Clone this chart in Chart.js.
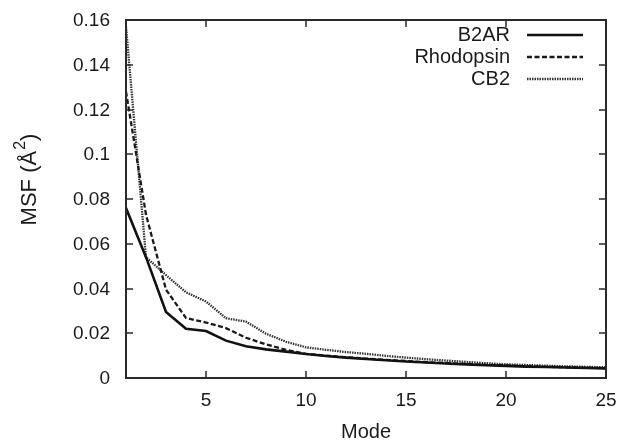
<!DOCTYPE html>
<html>
<head>
<meta charset="utf-8">
<script src="https://cdn.jsdelivr.net/npm/chart.js@4/dist/chart.umd.min.js"></script>
<style>
html,body{margin:0;padding:0;background:#fff;}
#wrap{width:624px;height:441px;position:relative;}
</style>
</head>
<body>
<div id="wrap"><canvas id="c" width="624" height="441"></canvas></div>
<script>
const modes = [1,2,3,4,5,6,7,8,9,10,11,12,13,14,15,16,17,18,19,20,21,22,23,24,25];
const b2ar = [0.076,0.054,0.0295,0.022,0.021,0.0167,0.0142,0.0128,0.0118,0.0107,0.0098,0.0091,0.0085,0.0079,0.0074,0.0069,0.0065,0.0061,0.0057,0.0054,0.0051,0.0049,0.0047,0.0045,0.0043];
const rhodopsin = [0.128,0.073,0.0395,0.0268,0.0248,0.0223,0.018,0.015,0.0126,0.0108,0.0100,0.0093,0.0087,0.0081,0.0076,0.0071,0.0067,0.0063,0.0059,0.0056,0.0053,0.0050,0.0048,0.0046,0.0044];
const cb2 = [0.157,0.054,0.046,0.0383,0.0342,0.0267,0.0252,0.0198,0.0162,0.0137,0.0126,0.0116,0.0108,0.0099,0.0091,0.0084,0.0078,0.0072,0.0066,0.0061,0.0058,0.0055,0.0052,0.0050,0.0048];
const xTicks = [5,10,15,20,25];
const yTicks = [0,0.02,0.04,0.06,0.08,0.1,0.12,0.14,0.16];
const yTickLabels = ['0','0.02','0.04','0.06','0.08','0.1','0.12','0.14','0.16'];
const seriesNames = ['B2AR','Rhodopsin','CB2'];

const FONT = '"Liberation Sans", Arial, Helvetica, sans-serif';
const INK = '#1a1a1a';

function pts(arr){ return modes.map((m,i)=>({x:m,y:arr[i]})); }

const framePlugin = {
  id:'frame',
  afterDraw(chart){
    const {ctx, chartArea:a, scales:{x,y}} = chart;
    ctx.save();
    ctx.setLineDash([]);
    ctx.strokeStyle = '#2a2a2a';
    ctx.lineWidth = 2;
    const L = Math.round(a.left), R = Math.round(a.right), T = Math.round(a.top), B = Math.round(a.bottom);
    ctx.beginPath();
    ctx.moveTo(L, T); ctx.lineTo(R, T); ctx.lineTo(R, B); ctx.lineTo(L, B); ctx.closePath();
    ctx.stroke();
    ctx.lineWidth = 1.5;
    const tl = 7;
    ctx.beginPath();
    xTicks.forEach(v=>{
      const px = Math.round(x.getPixelForValue(v));
      ctx.moveTo(px,B); ctx.lineTo(px,B-tl);
      ctx.moveTo(px,T); ctx.lineTo(px,T+tl);
    });
    yTicks.forEach(v=>{
      const py = Math.round(y.getPixelForValue(v));
      ctx.moveTo(L,py); ctx.lineTo(L+tl,py);
      ctx.moveTo(R,py); ctx.lineTo(R-tl,py);
    });
    ctx.stroke();

    // tick labels
    ctx.fillStyle = INK;
    ctx.font = '19px '+FONT;
    ctx.textBaseline = 'middle';
    ctx.textAlign = 'right';
    yTicks.forEach((v,i)=>{
      ctx.fillText(yTickLabels[i], L-16, y.getPixelForValue(v)+1);
    });
    ctx.textAlign = 'center';
    xTicks.forEach(v=>{
      ctx.fillText(String(v), x.getPixelForValue(v), B+23);
    });

    // axis titles
    ctx.font = '20px '+FONT;
    ctx.textAlign = 'center';
    ctx.textBaseline = 'middle';
    ctx.fillText('Mode', (L+R)/2, 432);

    ctx.save();
    ctx.translate(29, 180);
    ctx.rotate(-Math.PI/2);
    const main = 'MSF (Å';
    const sup = '2';
    const close = ')';
    ctx.font = '22px '+FONT;
    const w1 = ctx.measureText(main).width;
    const w3 = ctx.measureText(close).width;
    ctx.font = '16px '+FONT;
    const w2 = ctx.measureText(sup).width;
    const total = w1+w2+w3;
    const sx = -total/2;
    ctx.textAlign = 'left';
    ctx.font = '22px '+FONT;
    ctx.fillText(main, sx, 1);
    ctx.font = '16px '+FONT;
    ctx.fillText(sup, sx+w1+1, -8);
    ctx.font = '22px '+FONT;
    ctx.fillText(close, sx+w1+w2+1, 1);
    ctx.restore();

    // legend
    const rows = [35,57,79];
    chart.data.datasets.forEach((ds,i)=>{
      ctx.font = '20px '+FONT;
      ctx.textAlign = 'right';
      ctx.textBaseline = 'middle';
      ctx.fillStyle = INK;
      ctx.fillText(ds.label, 510, rows[i]);
      ctx.beginPath();
      ctx.strokeStyle = ds.borderColor;
      ctx.lineWidth = ds.borderWidth;
      ctx.setLineDash(ds.borderDash || []);
      ctx.moveTo(527, rows[i]);
      ctx.lineTo(583, rows[i]);
      ctx.stroke();
      ctx.setLineDash([]);
    });
    ctx.restore();
  }
};

new Chart(document.getElementById('c'), {
  type:'line',
  data:{
    datasets:[
      {label:seriesNames[0], data:pts(b2ar), borderColor:'#111', borderWidth:2.6, pointRadius:0, tension:0, fill:false},
      {label:seriesNames[1], data:pts(rhodopsin), borderColor:'#1a1a1a', borderWidth:2.3, borderDash:[5,2.5], pointRadius:0, tension:0, fill:false},
      {label:seriesNames[2], data:pts(cb2), borderColor:'#333', borderWidth:2.3, borderDash:[1.5,1], pointRadius:0, tension:0, fill:false}
    ]
  },
  options:{
    responsive:false,
    animation:false,
    layout:{padding:{top:20,right:18,left:0,bottom:0}},
    plugins:{legend:{display:false}, tooltip:{enabled:false}},
    scales:{
      x:{
        type:'linear', min:1, max:25,
        afterBuildTicks(s){ s.ticks = xTicks.map(v=>({value:v})); },
        afterFit(s){ s.height = 63; },
        grid:{display:false, drawTicks:false},
        border:{display:false},
        ticks:{display:false}
      },
      y:{
        type:'linear', min:0, max:0.16,
        afterBuildTicks(s){ s.ticks = yTicks.map(v=>({value:v})); },
        afterFit(s){ s.width = 126; },
        grid:{display:false, drawTicks:false},
        border:{display:false},
        ticks:{display:false}
      }
    }
  },
  plugins:[framePlugin]
});
</script>
</body>
</html>
